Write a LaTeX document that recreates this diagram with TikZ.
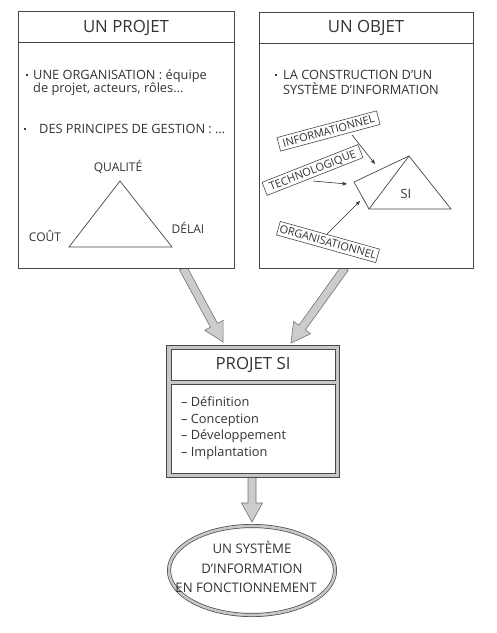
\documentclass[tikz,border=0pt]{standalone}
\usepackage{fontspec}
\setmainfont{Open Sans}
\usetikzlibrary{calc,shapes.geometric,arrows.meta}
\newcommand\fatarrow[2]{%
  \coordinate (fah) at ($(#2)!19pt!(#1)$);
  \filldraw[fatarr] ($(#1)!4pt!90:(#2)$) -- ($(fah)!4pt!90:(#2)$) -- ($(fah)!10.5pt!90:(#2)$) -- (#2)
    -- ($(fah)!10.5pt!-90:(#2)$) -- ($(fah)!4pt!-90:(#2)$) -- ($(#1)!4pt!-90:(#2)$) -- cycle;}
\begin{document}
\begin{tikzpicture}[x=1pt,y=-1pt,
  ln/.style={draw=black!72, line width=0.7pt},
  panel/.style={rectangle, draw=black!72, line width=0.7pt, fill=white, inner sep=0pt},
  txt/.style={text=black!80, inner sep=0pt},
  title/.style={txt, font=\fontsize{16.8}{19}\selectfont},
  body/.style={txt, font=\fontsize{12.8}{14}\selectfont, anchor=base west},
  lab/.style={txt, font=\fontsize{12}{14}\selectfont},
  bul/.style={rectangle, fill=black!75, minimum size=2.2pt, inner sep=0pt},
  tag/.style={rectangle, draw=black!72, line width=0.6pt, fill=white, text=black!80,
    font=\fontsize{11}{12}\selectfont, minimum width=103pt, minimum height=14pt,
    inner sep=0pt, text height=7.8pt, text depth=0pt},
  sarr/.style={draw=black!80, line width=0.6pt, -{Stealth[length=5pt,width=4pt]}},
  fatarr/.style={fill=black!20, draw=black!55, line width=0.6pt},
  listx/.style={txt, font=\fontsize{12.8}{15}\selectfont, anchor=base west},
  elltxt/.style={txt, font=\fontsize{13.2}{15}\selectfont, anchor=base}
]
\useasboundingbox (0,0) rectangle (497,633);
\fill[white] (0,0) rectangle (497,633);

% ---------- fat arrows ----------
\coordinate (la) at (183,268);
\coordinate (lb) at (223,342);
\coordinate (ra) at (345,268);
\coordinate (rb) at (291,343);
\coordinate (da) at (252,476);
\coordinate (db) at (252,522);
\fatarrow{la}{lb}
\fatarrow{ra}{rb}
\fatarrow{da}{db}

% ---------- left panel ----------
\node[panel, minimum width=216pt, minimum height=257pt] (projet) at (126,139.5) {};
\draw[ln] ($(projet.north west)+(0,32)$) -- ($(projet.north east)+(0,32)$);
\node[title] (t1) at (126,28) {UN PROJET};
\node[bul] (b1) at (27,75) {};
\node[body] (l1) at (33,79.5) {UNE ORGANISATION : équipe};
\node[body] (l2) at (33,92) {de projet, acteurs, rôles…};
\node[bul] (b2) at (25,129) {};
\node[body] (l3) at (39,133.5) {DES PRINCIPES DE GESTION : …};
\coordinate (tq) at (120,181);
\coordinate (tc) at (69,247);
\coordinate (td) at (172,247);
\draw[ln] (tq) -- (tc) -- (td) -- cycle;
\node[lab] (qual) at (118,167) {QUALITÉ};
\node[lab] (cout) at (45,236) {COÛT};
\node[lab] (delai) at (188,228) {DÉLAI};

% ---------- right panel ----------
\node[panel, minimum width=214pt, minimum height=256pt] (objet) at (366,140) {};
\draw[ln] ($(objet.north west)+(0,32)$) -- ($(objet.north east)+(0,32)$);
\node[title] (t2) at (366,28) {UN OBJET};
\node[bul] (b3) at (276,75) {};
\node[body] (r1) at (283,79.5) {LA CONSTRUCTION D'UN};
\node[body] (r2) at (283,94.5) {SYSTÈME D'INFORMATION};

\coordinate (s1) at (354,182);
\coordinate (s2) at (409,156);
\coordinate (s3) at (451,209);
\coordinate (s4) at (369,209);
\draw[ln] (s1) -- (s2) -- (s3) -- (s4) -- cycle;
\draw[ln] (s4) -- (s2);
\node[txt, font=\fontsize{12.8}{14}\selectfont] (si) at (406,194) {SI};

\node[tag, rotate=15] (info) at (328.5,131) {INFORMATIONNEL};
\node[tag, rotate=21.5] (techno) at (312.5,170) {TECHNOLOGIQUE};
\node[tag, rotate=-15.6] (orga) at (328,242) {ORGANISATIONNEL};

\coordinate (ia) at (352,135);
\coordinate (ib) at (375,164);
\coordinate (ta) at (313,181);
\coordinate (tb) at (347,184);
\coordinate (oa) at (327,234);
\coordinate (ob) at (360,201);
\draw[sarr] (ia) -- (ib);
\draw[sarr] (ta) -- (tb);
\draw[sarr] (oa) -- (ob);

% ---------- PROJET SI ----------
\node[panel, fill=black!22, minimum width=173pt, minimum height=132pt] (projsi) at (252.5,411) {};
\node[panel, minimum width=164pt, minimum height=31pt] (psititle) at (253,364.5) {};
\node[panel, minimum width=164pt, minimum height=89pt] (psibody) at (253,428.5) {};
\node[title] (pst) at (253,365) {PROJET SI};
\node[listx] (p1) at (181,406.5) {– Définition};
\node[listx] (p2) at (181,423.2) {– Conception};
\node[listx] (p3) at (181,439.9) {– Développement};
\node[listx] (p4) at (181,456.6) {– Implantation};

% ---------- final ellipse ----------
\node[ellipse, draw=black!72, line width=0.7pt, double=black!22, double distance=2.6pt,
  fill=white, minimum width=166pt, minimum height=89pt, inner sep=0pt] (final) at (252,570.5) {};
\node[elltxt] (e1) at (252,553.7) {UN SYSTÈME};
\node[elltxt] (e2) at (252,573.3) {D'INFORMATION};
\node[elltxt] (e3) at (246,592.7) {EN FONCTIONNEMENT};
\end{tikzpicture}
\end{document}
